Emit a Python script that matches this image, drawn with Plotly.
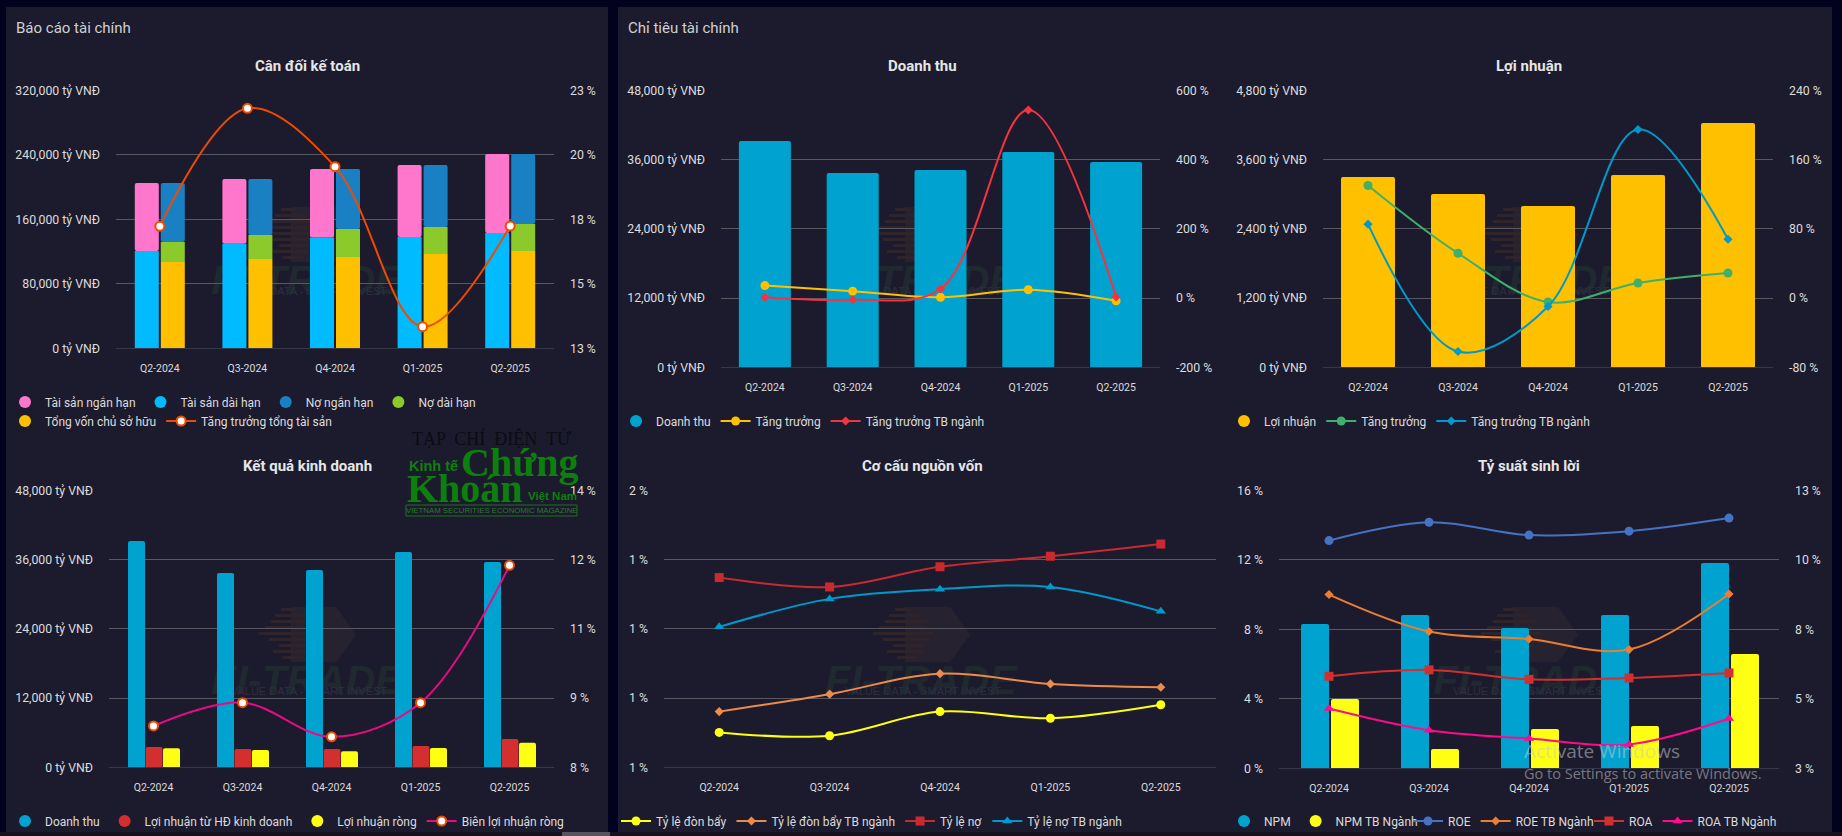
import plotly.graph_objects as go

W, H = 1842, 836
FONT = "Roboto"

quarters = ["Q2-2024", "Q3-2024", "Q4-2024", "Q1-2025", "Q2-2025"]

# Cân đối kế toán
ts_ngan_han = [84400, 80200, 85100, 89300, 98000]
ts_dai_han = [120700, 129800, 137300, 138100, 143000]
no_ngan_han = [73200, 69400, 74400, 76900, 86800]
no_dai_han = [24800, 29800, 34700, 33500, 33500]
von_csh = [107100, 110800, 113300, 117000, 120700]
tang_truong_ts = [17.73, 22.30, 20.04, 13.84, 17.74]

# Kết quả kinh doanh / Doanh thu / Lợi nhuận
doanh_thu = [39220, 33675, 34195, 37314, 35581]
ln_hdkd = [3523, 3177, 3177, 3697, 4910]
ln_rong = [3298, 3004, 2796, 3333, 4234]
bien_ln_rong = [8.895, 9.40, 8.66, 9.40, 12.375]
dt_tang_truong = [36, 20, 2, 24, -8]
dt_tb_nganh = [2, -5, 26, 543, 3]
ln_tang_truong = [130, 51.8, -4.6, 17.4, 29]
ln_tb_nganh = [85.4, -61.8, -9.7, 194.8, 68]

# Cơ cấu nguồn vốn
don_bay = [0.726, 0.714, 0.801, 0.777, 0.826]
don_bay_tb = [0.801, 0.864, 0.938, 0.901, 0.889]
ty_le_no = [1.285, 1.251, 1.324, 1.362, 1.406]
ty_le_no_tb = [1.107, 1.208, 1.243, 1.251, 1.163]

# Tỷ suất sinh lời
npm = [8.31, 8.82, 8.08, 8.82, 11.82]
npm_tb = [3.99, 1.11, 2.26, 2.44, 6.58]
roe = [11.19, 11.85, 11.39, 11.53, 12.0]
roe_tb = [9.25, 7.92, 7.65, 7.27, 9.27]
roa = [6.31, 6.54, 6.20, 6.25, 6.43]
roa_tb = [5.15, 4.37, 4.07, 3.86, 4.79]

# Tick values and labels
ticks_ts = [0, 80000, 160000, 240000, 320000]
ticks_dt = [0, 12000, 24000, 36000, 48000]
ticks_ln = [0, 1200, 2400, 3600, 4800]
ticks_r1 = [13, 15.5, 18, 20.5, 23]
text_r1 = ["13 %", "15 %", "18 %", "20 %", "23 %"]
ticks_r2 = [8, 9.5, 11, 12.5, 14]
text_r2 = ["8 %", "9 %", "11 %", "12 %", "14 %"]
ticks_r3 = [-200, 0, 200, 400, 600]
ticks_r4 = [-80, 0, 80, 160, 240]
ticks_l5 = [0.6, 0.85, 1.1, 1.35, 1.6]
text_l5 = ["1 %", "1 %", "1 %", "1 %", "2 %"]
ticks_l6 = [0, 4, 8, 12, 16]
ticks_r6 = [3, 5.5, 8, 10.5, 13]
text_r6 = ["3 %", "5 %", "8 %", "10 %", "13 %"]

PANEL = "#1c1b2e"
PAGE = "#02021f"
GRID = "#585860"
BASE = "#37374a"
TXT = "#dcdcdc"


def px(x):
    return x / W


def py(y):
    return 1 - y / H


def vnd(vals):
    return [f"{v:,} tỷ VNĐ" for v in vals]


def pct(vals):
    return [f"{v} %" for v in vals]


fig = go.Figure()
layout = dict(
    width=W, height=H, autosize=False,
    margin=dict(l=0, r=0, t=0, b=0, pad=0),
    paper_bgcolor=PAGE, plot_bgcolor="rgba(0,0,0,0)",
    template="none", barmode="overlay", showlegend=True,
    font=dict(family=FONT, color=TXT, size=12),
    hovermode=False,
)
shapes = []
annotations = []


def rect(x0, y0, x1, y1, color, layer="below", label=None):
    s = dict(type="rect", xref="paper", yref="paper", x0=px(x0), x1=px(x1), y0=py(y1), y1=py(y0),
             fillcolor=color, line=dict(width=0), layer=layer)
    if label:
        s["label"] = label
    shapes.append(s)


def text(x, y, s, size, color=TXT, family=FONT, anchor="left"):
    annotations.append(dict(text=s, x=px(x), y=py(y), xref="paper", yref="paper", xanchor=anchor,
                            yanchor="middle", showarrow=False, font=dict(size=size, color=color, family=family)))


# panels
rect(0, 832, W, H, "#12131f")
rect(562, 832, 610, H, "#555560")
rect(6, 7, 608, 832, PANEL)
rect(618, 7, 1832, 832, PANEL)
text(14, 28, "Báo cáo tài chính", 15, "#d0d0d0")
text(626, 28, "Chỉ tiêu tài chính", 15, "#d0d0d0")


def watermark(dx, top):
    rel = dict(x0=dx + 32, x1=dx + 77, tip=dx + 97)
    shapes.append(dict(
        type="path", xref="paper", yref="paper", layer="below", line=dict(width=0), fillcolor="#262230",
        path=f"M {px(rel['x0'])} {py(top)} L {px(rel['x1'])} {py(top)} L {px(rel['tip'])} {py(top + 28)} "
             f"L {px(rel['x1'])} {py(top + 55)} L {px(rel['x0'])} {py(top + 55)} Z"))
    rows = [(22, 16), (16, 30), (12, 42), (6, 44), (0, 60), (10, 46), (20, 32), (14, 36), (24, 20)]
    for k, (off, ln) in enumerate(rows):
        rect(dx + off, top + 1 + k * 6, dx + off + ln, top + 4 + k * 6, "#30242c")
    rect(dx - 52, top + 56, dx + 148, top + 82, "rgba(0,0,0,0)", label=dict(
        text="<b><i>FI-TRADE</i></b>", textposition="middle center",
        font=dict(family="Liberation Sans", size=41, color="#20292f")))
    rect(dx - 30, top + 76, dx + 130, top + 90, "rgba(0,0,0,0)", label=dict(
        text="VALUE DATA - SMART INVEST", textposition="middle center",
        font=dict(family="Liberation Sans", size=11, color="#2e2e40")))


for dx in (259, 873, 1481):
    watermark(dx, 207)
    watermark(dx, 607)

LEGEND_ROWS = 0


def new_legend(x, y):
    global LEGEND_ROWS
    LEGEND_ROWS += 1
    name = "legend" if LEGEND_ROWS == 1 else f"legend{LEGEND_ROWS}"
    layout[name] = dict(x=px(x), y=py(y), xanchor="left", yanchor="middle", orientation="h",
                        bgcolor="rgba(0,0,0,0)", borderwidth=0, font=dict(size=12, color=TXT, family=FONT),
                        itemclick=False, itemdoubleclick=False, tracegroupgap=0)
    return name


AXIS_NO = 0


def chart(idx, box, title, title_x, lticks, ltext, lrange, rticks=None, rtext=None, rrange=None):
    global AXIS_NO
    l, r, t, b = box
    AXIS_NO += 1
    xn = AXIS_NO
    yl = 2 * idx - 1
    yr = 2 * idx
    layout[f"xaxis{xn}"] = dict(
        type="category", categoryorder="array", categoryarray=quarters, range=[-0.5, 4.5],
        domain=[px(l), px(r)], anchor=f"y{yl}", showgrid=False, zeroline=False,
        showline=True, linecolor=BASE, linewidth=1, ticks="",
        tickfont=dict(size=10.5, color=TXT, family=FONT), ticklabelstandoff=10, automargin=False, fixedrange=True)
    layout[f"yaxis{yl}"] = dict(
        domain=[py(b), py(t)], anchor=f"x{xn}", range=lrange, tickmode="array", tickvals=lticks, ticktext=ltext,
        showgrid=True, gridcolor=GRID, gridwidth=1, zeroline=False, showline=False, ticks="",
        tickfont=dict(size=12.3, color=TXT, family=FONT), ticklabelstandoff=15, automargin=False, fixedrange=True)
    if rticks is not None:
        layout[f"yaxis{yr}"] = dict(
            domain=[py(b), py(t)], anchor=f"x{xn}", overlaying=f"y{yl}", side="right", range=rrange,
            tickmode="array", tickvals=rticks, ticktext=rtext, showgrid=False, zeroline=False, showline=False,
            ticks="", tickfont=dict(size=12.3, color=TXT, family=FONT), ticklabelstandoff=15,
            automargin=False, fixedrange=True)
    text(title_x, t - 24, f"<b>{title}</b>", 15, "#e6e6e6", anchor="center")
    return f"x{xn}", f"y{yl}", f"y{yr}", (r - l) / 5


def bars(xa, ya, name, vals, color, width, offset, legend, cw, base=None, radius=2):
    fig.add_trace(go.Bar(x=quarters, y=vals, base=base, name=name, xaxis=xa, yaxis=ya, showlegend=False,
                         width=width / cw, offset=offset / cw,
                         marker=dict(color=color, line=dict(width=0), cornerradius=radius)))
    fig.add_trace(go.Scatter(x=[None], y=[None], name=name, xaxis=xa, yaxis=ya, mode="markers", legend=legend,
                             marker=dict(color=color, size=12, symbol="circle")))


def line(xa, ya, name, vals, color, symbol, legend, size=8, ring=None):
    marker = dict(color=color, size=size, symbol=symbol, line=dict(width=0))
    if ring:
        marker = dict(color="#ffffff", size=size, symbol="circle", line=dict(width=2, color=ring))
    fig.add_trace(go.Scatter(x=quarters, y=vals, name=name, xaxis=xa, yaxis=ya, mode="lines+markers", legend=legend,
                             line=dict(color=color, width=2, shape="spline", smoothing=1), marker=marker,
                             cliponaxis=False))


# 1. Cân đối kế toán
xa, ya, yb, cw = chart(1, (116, 554, 90.3, 348.3), "Cân đối kế toán", 307, ticks_ts, vnd(ticks_ts), [0, 320000],
                       ticks_r1, text_r1, [13, 23])
leg1 = new_legend(5, 402)
leg1b = new_legend(5, 421)
bars(xa, ya, "Tài sản ngắn hạn", ts_ngan_han, "#ff77cc", 24, -25, leg1, cw, base=ts_dai_han)
bars(xa, ya, "Tài sản dài hạn", ts_dai_han, "#00bbff", 24, -25, leg1, cw, radius=0)
base_no = [a + c for a, c in zip(no_dai_han, von_csh)]
bars(xa, ya, "Nợ ngắn hạn", no_ngan_han, "#1a80c4", 24, 1, leg1, cw, base=base_no)
bars(xa, ya, "Nợ dài hạn", no_dai_han, "#8cc92a", 24, 1, leg1, cw, base=von_csh, radius=0)
bars(xa, ya, "Tổng vốn chủ sở hữu", von_csh, "#ffc000", 24, 1, leg1b, cw, radius=0)
line(xa, yb, "Tăng trưởng tổng tài sản", tang_truong_ts, "#f04a00", "circle", leg1b, size=9, ring="#f04a00")

# 2. Kết quả kinh doanh
xa, ya, yb, cw = chart(2, (109, 554, 490.3, 767.3), "Kết quả kinh doanh", 307, ticks_dt, vnd(ticks_dt), [0, 48000],
                       ticks_r2, text_r2, [8, 14])
leg = new_legend(5, 821)
bars(xa, ya, "Doanh thu", doanh_thu, "#00a3d0", 17, -25.5, leg, cw)
bars(xa, ya, "Lợi nhuận từ HĐ kinh doanh", ln_hdkd, "#d32f2f", 17, -8, leg, cw)
bars(xa, ya, "Lợi nhuận ròng", ln_rong, "#ffff14", 17, 9.5, leg, cw)
line(xa, yb, "Biên lợi nhuận ròng", bien_ln_rong, "#ec0a84", "circle", leg, size=9, ring="#f04a00")

# 3. Doanh thu
xa, ya, yb, cw = chart(3, (721, 1160, 90.3, 367.3), "Doanh thu", 922, ticks_dt, vnd(ticks_dt), [0, 48000],
                       ticks_r3, pct(ticks_r3), [-200, 600])
leg = new_legend(616, 421)
bars(xa, ya, "Doanh thu", doanh_thu, "#00a3d0", 52, -26, leg, cw)
line(xa, yb, "Tăng trưởng", dt_tang_truong, "#ffc000", "circle", leg, size=9)
line(xa, yb, "Tăng trưởng TB ngành", dt_tb_nganh, "#f5333f", "diamond", leg, size=7)

# 4. Lợi nhuận
xa, ya, yb, cw = chart(4, (1323, 1773, 90.3, 367.3), "Lợi nhuận", 1529, ticks_ln, vnd(ticks_ln), [0, 4800],
                       ticks_r4, pct(ticks_r4), [-80, 240])
leg = new_legend(1224, 421)
bars(xa, ya, "Lợi nhuận", ln_rong, "#ffc000", 54, -27, leg, cw)
line(xa, yb, "Tăng trưởng", ln_tang_truong, "#3fb06b", "circle", leg, size=9)
line(xa, yb, "Tăng trưởng TB ngành", ln_tb_nganh, "#0099cc", "diamond", leg, size=7)

# 5. Cơ cấu nguồn vốn
xa, ya, yb, cw = chart(5, (664, 1216, 490.3, 767.3), "Cơ cấu nguồn vốn", 922, ticks_l5, text_l5, [0.6, 1.6])
leg = new_legend(616, 821)
line(xa, ya, "Tỷ lệ đòn bẩy", don_bay, "#ffff14", "circle", leg, size=9)
line(xa, ya, "Tỷ lệ đòn bẩy TB ngành", don_bay_tb, "#ee8a4a", "diamond", leg, size=7)
line(xa, ya, "Tỷ lệ nợ", ty_le_no, "#c92a2e", "square", leg, size=9)
line(xa, ya, "Tỷ lệ nợ TB ngành", ty_le_no_tb, "#0099cc", "triangle-up", leg, size=9)

# 6. Tỷ suất sinh lời
xa, ya, yb, cw = chart(6, (1279, 1779, 490.3, 768.3), "Tỷ suất sinh lời", 1529, ticks_l6, pct(ticks_l6), [0, 16],
                       ticks_r6, text_r6, [3, 13])
leg_a = new_legend(1224, 821)
leg_b = new_legend(1408, 821)
leg_c = new_legend(1589, 821)
bars(xa, ya, "NPM", npm, "#00a3d0", 28, -28, leg_a, cw)
bars(xa, ya, "NPM TB Ngành", npm_tb, "#ffff14", 28, 2, leg_a, cw)
line(xa, yb, "ROE", roe, "#4472c4", "circle", leg_b, size=9)
line(xa, yb, "ROE TB Ngành", roe_tb, "#ed7d31", "diamond", leg_b, size=7)
line(xa, yb, "ROA", roa, "#d32f2f", "square", leg_c, size=9)
line(xa, yb, "ROA TB Ngành", roa_tb, "#ff0a8a", "triangle-up", leg_c, size=9)

# magazine logo (overlay on the screenshot)
GREEN = "#0c800c"
text(491, 438, "TẠP  CHÍ  ĐIỆN  TỬ", 18, "#0b0b14", "Liberation Serif", anchor="center")
text(407, 466, "<b>Kinh tế</b>", 14.5, GREEN, "Liberation Sans")
text(459, 462, "<b>Chứng</b>", 40, GREEN, "Liberation Serif")
text(405, 488, "<b>Khoán</b>", 40, GREEN, "Liberation Serif")
text(526, 496, "<b>Việt Nam</b>", 11.5, GREEN, "Liberation Sans")
shapes.append(dict(type="rect", xref="paper", yref="paper", x0=px(406), x1=px(577), y0=py(516), y1=py(505),
                   fillcolor="rgba(0,0,0,0)", line=dict(width=1, color="#1f6f1f"), layer="above"))
text(491.5, 510.5, "VIETNAM SECURITIES ECONOMIC MAGAZINE", 7.8, "#2a7a2a", "Liberation Sans", anchor="center")

# Windows activation notice over the screenshot
text(1522, 751, "Activate Windows", 19, "rgba(200,200,200,0.55)", "Open Sans")
text(1522, 773, "Go to Settings to activate Windows.", 14.5, "rgba(200,200,200,0.55)", "Open Sans")

layout["shapes"] = shapes
layout["annotations"] = annotations
fig.update_layout(**layout)
fig.write_html("out.html", config={"displayModeBar": False},
               post_script="document.body.style.margin='0';document.body.style.overflow='hidden';document.body.style.background='%s';" % PAGE)
